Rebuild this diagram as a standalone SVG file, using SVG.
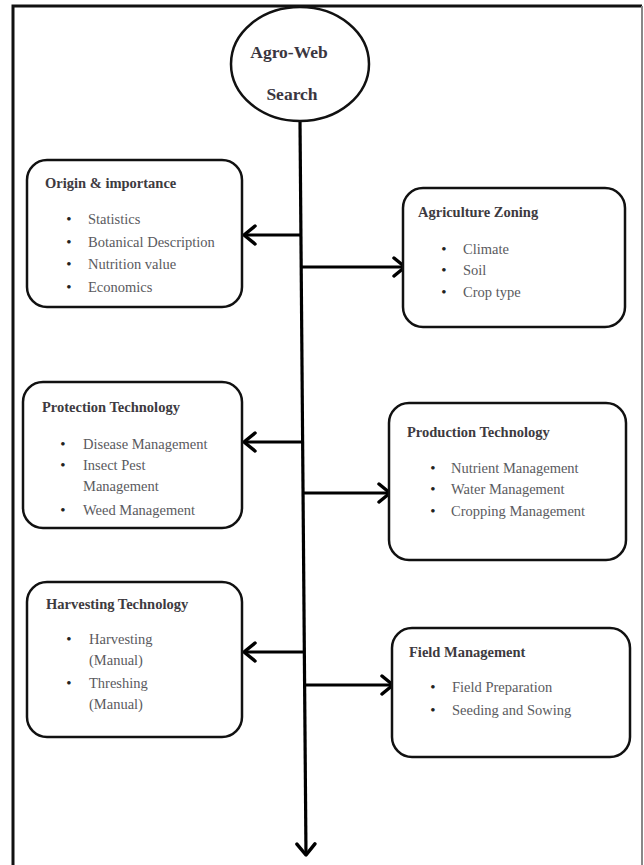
<svg xmlns="http://www.w3.org/2000/svg" width="644" height="865" viewBox="0 0 644 865">
<style>
.box{fill:#fff;stroke:#111;stroke-width:2.5}
.ttl{font-family:"Liberation Serif",serif;font-weight:bold;font-size:14.5px;fill:#3d3a40}
.itm{font-family:"Liberation Serif",serif;font-size:14.5px;fill:#5a5a5e}
.bul{font-family:"Liberation Serif",serif;font-size:15px;fill:#222;text-anchor:middle}
.big{font-family:"Liberation Serif",serif;font-weight:bold;font-size:17.5px;fill:#3a3640;text-anchor:middle}
.ln{stroke:#000;stroke-width:3.2;fill:none}
</style>
<defs>
<marker id="arr" viewBox="0 0 16 22" markerWidth="16" markerHeight="22" refX="14" refY="11" orient="auto" markerUnits="userSpaceOnUse">
<path d="M3,2 L14,11 L3,20" fill="none" stroke="#000" stroke-width="3.5" stroke-linecap="round" stroke-linejoin="round"/>
</marker>
</defs>
<rect x="0" y="0" width="644" height="865" fill="#fff"/>
<g id="frame">
<path d="M13,865 L13,6 L642,6" fill="none" stroke="#111" stroke-width="3"/>
<path d="M642,6 L642,865" fill="none" stroke="#888" stroke-width="2"/>
</g>
<g id="connectors">
<path class="ln" d="M300,121 L306,855" marker-end="url(#arr)"/>
<path class="ln" d="M301,235 L244,235" marker-end="url(#arr)"/>
<path class="ln" d="M301,267 L405,267" marker-end="url(#arr)"/>
<path class="ln" d="M302,442 L244,442" marker-end="url(#arr)"/>
<path class="ln" d="M303,493 L390,493" marker-end="url(#arr)"/>
<path class="ln" d="M303,652 L244,652" marker-end="url(#arr)"/>
<path class="ln" d="M304,685 L393,685" marker-end="url(#arr)"/>
</g>
<g id="agro-web-search">
<ellipse cx="300" cy="64" rx="69" ry="57" fill="#fff" stroke="#111" stroke-width="2.5"/>
<text class="big" x="289" y="58">Agro-Web</text>
<text class="big" x="292" y="100">Search</text>
</g>
<g id="origin-importance">
<rect class="box" x="27" y="160" width="215" height="147" rx="20"/>
<text class="ttl" x="45" y="188">Origin &amp; importance</text>
<text class="bul" x="69" y="224">•</text><text class="itm" x="88" y="224">Statistics</text>
<text class="bul" x="69" y="247">•</text><text class="itm" x="88" y="247">Botanical Description</text>
<text class="bul" x="69" y="269">•</text><text class="itm" x="88" y="269">Nutrition value</text>
<text class="bul" x="69" y="292">•</text><text class="itm" x="88" y="292">Economics</text>
</g>
<g id="agriculture-zoning">
<rect class="box" x="403" y="188" width="222" height="139" rx="20"/>
<text class="ttl" x="418" y="217">Agriculture Zoning</text>
<text class="bul" x="444" y="254">•</text><text class="itm" x="463" y="254">Climate</text>
<text class="bul" x="444" y="275">•</text><text class="itm" x="463" y="275">Soil</text>
<text class="bul" x="444" y="297">•</text><text class="itm" x="463" y="297">Crop type</text>
</g>
<g id="protection-technology">
<rect class="box" x="23" y="382" width="219" height="146" rx="20"/>
<text class="ttl" x="42" y="412">Protection Technology</text>
<text class="bul" x="63" y="449">•</text><text class="itm" x="83" y="449">Disease Management</text>
<text class="bul" x="63" y="470">•</text><text class="itm" x="83" y="470">Insect Pest</text>
<text class="itm" x="83" y="491">Management</text>
<text class="bul" x="63" y="515">•</text><text class="itm" x="83" y="515">Weed Management</text>
</g>
<g id="production-technology">
<rect class="box" x="389" y="403" width="237" height="157" rx="20"/>
<text class="ttl" x="407" y="437">Production Technology</text>
<text class="bul" x="433" y="473">•</text><text class="itm" x="451" y="473">Nutrient Management</text>
<text class="bul" x="433" y="494">•</text><text class="itm" x="451" y="494">Water Management</text>
<text class="bul" x="433" y="516">•</text><text class="itm" x="451" y="516">Cropping Management</text>
</g>
<g id="harvesting-technology">
<rect class="box" x="27" y="582" width="215" height="155" rx="20"/>
<text class="ttl" x="46" y="609">Harvesting  Technology</text>
<text class="bul" x="69" y="644">•</text><text class="itm" x="89" y="644">Harvesting</text>
<text class="itm" x="89" y="665">(Manual)</text>
<text class="bul" x="69" y="688">•</text><text class="itm" x="89" y="688">Threshing</text>
<text class="itm" x="89" y="709">(Manual)</text>
</g>
<g id="field-management">
<rect class="box" x="392" y="628" width="238" height="129" rx="20"/>
<text class="ttl" x="409" y="657">Field Management</text>
<text class="bul" x="433" y="692">•</text><text class="itm" x="452" y="692">Field Preparation</text>
<text class="bul" x="433" y="715">•</text><text class="itm" x="452" y="715">Seeding and Sowing</text>
</g>
</svg>
